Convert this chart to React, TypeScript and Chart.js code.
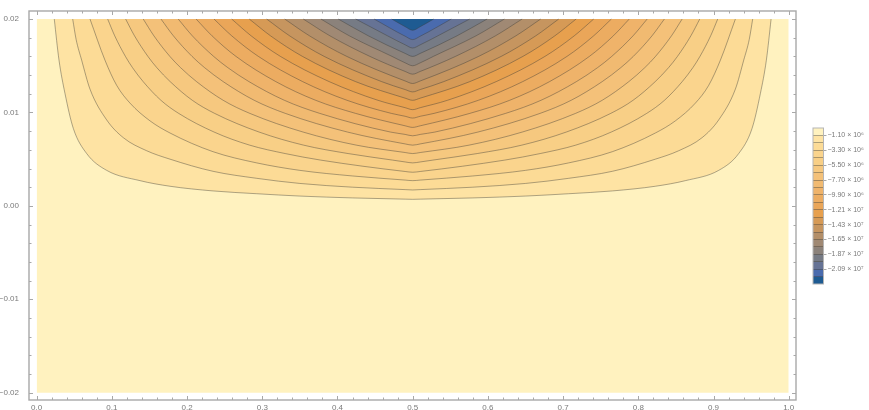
import React, { useEffect, useRef } from "react";
import { Chart, registerables } from "chart.js";

Chart.register(...registerables);

const xMajor = [0, 0.1, 0.2, 0.3, 0.4, 0.5, 0.6, 0.7, 0.8, 0.9, 1];
const xMinor = [0.02, 0.04, 0.06, 0.08, 0.12, 0.14, 0.16, 0.18, 0.22, 0.24, 0.26, 0.28, 0.32, 0.34, 0.36, 0.38, 0.42, 0.44, 0.46, 0.48, 0.52, 0.54, 0.56, 0.58, 0.62, 0.64, 0.66, 0.68, 0.72, 0.74, 0.76, 0.78, 0.82, 0.84, 0.86, 0.88, 0.92, 0.94, 0.96, 0.98];
const yMajor = [-0.02, -0.01, 0, 0.01, 0.02];
const yMinor = [-0.018, -0.016, -0.014, -0.012, -0.008, -0.006, -0.004, -0.002, 0.002, 0.004, 0.006, 0.008, 0.012, 0.014, 0.016, 0.018];

// Left half of each contour, as [x, y]; the plot is mirror-symmetric about x = 0.5.
const c01 = [[0.0234, 0.02], [0.0297, 0.0156], [0.0376, 0.01205], [0.0487, 0.0083], [0.0665, 0.0056], [0.0931, 0.0038], [0.1374, 0.0027], [0.1773, 0.0021], [0.2345, 0.0016], [0.2926, 0.0013], [0.35, 0.00105], [0.42, 0.00085], [0.49, 0.00072], [0.5, 0.0007]];
const c02 = [[0.0479, 0.02], [0.0525, 0.0178], [0.0598, 0.0156], [0.0709, 0.0125], [0.0931, 0.0092], [0.1152, 0.0073], [0.1463, 0.0059], [0.1773, 0.005], [0.2345, 0.0037], [0.2926, 0.00295], [0.35, 0.0024], [0.42, 0.002], [0.49, 0.00174], [0.5, 0.0017]];
const c03 = [[0.0709, 0.02], [0.0908, 0.0156], [0.1064, 0.0129], [0.1241, 0.011], [0.1507, 0.0091], [0.1773, 0.0078], [0.2345, 0.0058], [0.2926, 0.0046], [0.35, 0.0038], [0.42, 0.0032], [0.49, 0.00276], [0.5, 0.0027]];
const c04 = [[0.0944, 0.02], [0.1038, 0.0182], [0.118, 0.016], [0.1274, 0.0148], [0.1416, 0.0133], [0.1652, 0.0113], [0.1888, 0.0099], [0.236, 0.0079], [0.2832, 0.0065], [0.3304, 0.0056], [0.3776, 0.0049], [0.49, 0.00368], [0.5, 0.0036]];
const c05 = [[0.1183, 0.02], [0.1301, 0.0182], [0.1479, 0.016], [0.1597, 0.0148], [0.1775, 0.0133], [0.207, 0.0113], [0.2366, 0.0099], [0.2958, 0.0079], [0.3549, 0.0065], [0.4141, 0.0056], [0.4732, 0.0049], [0.49, 0.0047], [0.5, 0.0046]];
const c06 = [[0.1417, 0.02], [0.1559, 0.0182], [0.1771, 0.016], [0.1913, 0.0148], [0.2126, 0.0133], [0.248, 0.0113], [0.2834, 0.0099], [0.3543, 0.0079], [0.4251, 0.0065], [0.49, 0.00571], [0.5, 0.0056]];
const c07 = [[0.1653, 0.02], [0.1818, 0.0182], [0.2066, 0.016], [0.2232, 0.0148], [0.248, 0.0133], [0.2893, 0.0113], [0.3306, 0.0099], [0.4133, 0.0079], [0.49, 0.00663], [0.5, 0.0065]];
const c08 = [[0.1882, 0.02], [0.207, 0.0182], [0.2353, 0.016], [0.2541, 0.0148], [0.2823, 0.0133], [0.3294, 0.0113], [0.3764, 0.0099], [0.4705, 0.0079], [0.49, 0.00765], [0.5, 0.0075]];
const c09 = [[0.212, 0.02], [0.2332, 0.0182], [0.265, 0.016], [0.318, 0.0133], [0.371, 0.0113], [0.424, 0.0099], [0.49, 0.00857], [0.5, 0.0084]];
const c10 = [[0.2358, 0.02], [0.2594, 0.0182], [0.2948, 0.016], [0.3537, 0.0133], [0.4127, 0.0113], [0.4716, 0.0099], [0.49, 0.00959], [0.5, 0.0094]];
const c11 = [[0.2593, 0.02], [0.2852, 0.0182], [0.3241, 0.016], [0.389, 0.0133], [0.4538, 0.0113], [0.49, 0.01051], [0.5, 0.0103]];
const c12 = [[0.2827, 0.02], [0.311, 0.0182], [0.3534, 0.016], [0.4241, 0.0133], [0.49, 0.01153], [0.5, 0.0113]];
const c13 = [[0.3058, 0.02], [0.3364, 0.0182], [0.3823, 0.016], [0.4587, 0.0133], [0.49, 0.01245], [0.5, 0.0122]];
const c14 = [[0.3298, 0.02], [0.3628, 0.0182], [0.4123, 0.016], [0.49, 0.01337], [0.5, 0.0131]];
const c15 = [[0.3545, 0.02], [0.39, 0.0182], [0.4431, 0.016], [0.49, 0.01439], [0.5, 0.0141]];
const c16 = [[0.378, 0.02], [0.4158, 0.0182], [0.4725, 0.016], [0.49, 0.01531], [0.5, 0.015]];
const c17 = [[0.401, 0.02], [0.4411, 0.0182], [0.49, 0.01632], [0.5, 0.016]];
const c18 = [[0.4242, 0.02], [0.4666, 0.0182], [0.49, 0.01724], [0.5, 0.0169]];
const c19 = [[0.4487, 0.02], [0.49, 0.01816], [0.5, 0.0178]];
const c20 = [[0.4721, 0.02], [0.49, 0.01918], [0.5, 0.0188]];
const contours = [c01, c02, c03, c04, c05, c06, c07, c08, c09, c10, c11, c12, c13, c14, c15, c16, c17, c18, c19, c20];

const bandColors = ["#FFF2BF", "#FEE3A3", "#FCDB96", "#FAD48D", "#F8CF86", "#F6C87F", "#F4C179", "#F1BA71", "#EFB36A", "#ECAC61", "#EAA659", "#E7A04E", "#D69A56", "#C6955F", "#B38F69", "#A08974", "#8B827B", "#767B85", "#667395", "#4A6BAE", "#1E5B92"];

const legendLevels = [-1.1e6, -2.2e6, -3.3e6, -4.4e6, -5.5e6, -6.6e6, -7.7e6, -8.8e6, -9.9e6, -1.1e7, -1.21e7, -1.32e7, -1.43e7, -1.54e7, -1.65e7, -1.76e7, -1.87e7, -1.98e7, -2.09e7, -2.2e7];
const legendLabels = ["−1.10 × 10⁶", "", "−3.30 × 10⁶", "", "−5.50 × 10⁶", "", "−7.70 × 10⁶", "", "−9.90 × 10⁶", "", "−1.21 × 10⁷", "", "−1.43 × 10⁷", "", "−1.65 × 10⁷", "", "−1.87 × 10⁷", "", "−2.09 × 10⁷", ""];
const bandSpan = 1.1e6;

const lineColor = "rgba(60,60,55,0.42)";
const axisColor = "#a8a8a8";
const textColor = "#7a7a7a";
const font = "Liberation Sans";

const setTicks = (major: number[], minor: number[]) => (scale: any) => {
  scale.ticks = [...major.map((value) => ({ value, major: true })), ...minor.map((value) => ({ value, major: false }))].sort((a, b) => a.value - b.value);
};

const framePlugin = {
  id: "frame",
  afterDatasetsDraw(chart: any) {
    const { ctx, chartArea: a, scales } = chart;
    ctx.save();
    ctx.strokeStyle = axisColor;
    ctx.lineWidth = 1;
    ctx.beginPath();
    for (const t of scales.x.ticks) {
      const p = Math.round(scales.x.getPixelForValue(t.value)) + 0.5;
      const len = t.major ? 4 : 2.5;
      ctx.moveTo(p, a.bottom); ctx.lineTo(p, a.bottom - len);
      ctx.moveTo(p, a.top); ctx.lineTo(p, a.top + len);
    }
    for (const t of scales.y.ticks) {
      const p = Math.round(scales.y.getPixelForValue(t.value)) + 0.5;
      const len = t.major ? 4 : 2.5;
      ctx.moveTo(a.left, p); ctx.lineTo(a.left + len, p);
      ctx.moveTo(a.right, p); ctx.lineTo(a.right - len, p);
    }
    ctx.stroke();
    ctx.lineWidth = 1.4;
    ctx.strokeRect(a.left, a.top, a.right - a.left, a.bottom - a.top);
    ctx.restore();
  },
};

const barFramePlugin = {
  id: "barFrame",
  afterDraw(chart: any) {
    const { ctx, chartArea: a } = chart;
    ctx.save();
    ctx.strokeStyle = "#b5b5b5";
    ctx.lineWidth = 1;
    ctx.strokeRect(a.left, a.top, a.right - a.left, a.bottom - a.top);
    ctx.restore();
  },
};

export default function App() {
  const mainRef = useRef<HTMLCanvasElement>(null);
  const barRef = useRef<HTMLCanvasElement>(null);

  useEffect(() => {
    const contourSets = contours
      .map((half, i) => {
        const right = half.slice(0, -1).reverse().map(([x, y]) => [1 - x, y]);
        const pts = [...half, ...right].map(([x, y]) => ({ x, y }));
        return {
          data: pts,
          showLine: true,
          pointRadius: 0,
          borderColor: lineColor,
          borderWidth: 1,
          cubicInterpolationMode: "monotone",
          fill: { target: { value: 0.02 }, above: bandColors[i + 1], below: bandColors[i + 1] },
        };
      })
      .reverse();
    const base = {
      data: [{ x: 0, y: -0.02 }, { x: 1, y: -0.02 }],
      showLine: true,
      pointRadius: 0,
      borderWidth: 0,
      borderColor: "transparent",
      fill: { target: { value: 0.02 }, above: bandColors[0], below: bandColors[0] },
    };
    const main = new Chart(mainRef.current!, {
      type: "scatter",
      data: { datasets: [...contourSets, base] as any },
      plugins: [framePlugin],
      options: {
        animation: false,
        responsive: false,
        layout: { padding: { left: 0, top: 11, right: 73, bottom: 0 } },
        plugins: { legend: { display: false }, tooltip: { enabled: false } },
        scales: {
          x: {
            type: "linear",
            min: -0.0102,
            max: 1.0097,
            afterBuildTicks: setTicks(xMajor, xMinor),
            afterFit: (s: any) => { s.height = 30; },
            grid: { display: false },
            border: { display: false },
            ticks: {
              autoSkip: false,
              maxRotation: 0,
              padding: -5,
              color: textColor,
              font: { family: font, size: 8 },
              callback: (_v: any, i: number, t: any[]) => (t[i].major ? t[i].value.toFixed(1) : ""),
            },
          },
          y: {
            type: "linear",
            min: -0.02078,
            max: 0.02086,
            afterBuildTicks: setTicks(yMajor, yMinor),
            afterFit: (s: any) => { s.width = 29; },
            grid: { display: false },
            border: { display: false },
            ticks: {
              autoSkip: false,
              padding: 2,
              color: textColor,
              font: { family: font, size: 8 },
              callback: (_v: any, i: number, t: any[]) => {
                if (!t[i].major) return "";
                const v = t[i].value;
                return (v < 0 ? "−" : "") + Math.abs(v).toFixed(2);
              },
            },
          },
        },
      },
    });

    const bar = new Chart(barRef.current!, {
      type: "bar",
      data: {
        labels: ["bar"],
        datasets: bandColors.map((c) => ({
          data: [-bandSpan],
          backgroundColor: c,
          borderWidth: 0,
          barPercentage: 1,
          categoryPercentage: 1,
        })),
      },
      plugins: [barFramePlugin],
      options: {
        animation: false,
        responsive: false,
        layout: { padding: { left: 1, top: 8, right: 0, bottom: 6 } },
        plugins: { legend: { display: false }, tooltip: { enabled: false } },
        scales: {
          x: { stacked: true, display: false },
          y: {
            stacked: true,
            position: "right",
            min: -2.31e7,
            max: 0,
            afterBuildTicks: (s: any) => {
              s.ticks = legendLevels.map((value) => ({ value }));
            },
            afterFit: (s: any) => { s.width = 45.5; },
            border: { display: false },
            grid: {
              z: 1,
              color: lineColor,
              tickColor: (ctx: any) => (legendLabels[legendLevels.indexOf(ctx.tick?.value)] ? "#a8a8a8" : "transparent"),
              tickLength: 3,
            },
            ticks: {
              autoSkip: false,
              padding: 1,
              color: textColor,
              font: { family: font, size: 7 },
              callback: (v: any) => legendLabels[legendLevels.indexOf(v)] ?? "",
            },
          },
        },
      },
    });

    return () => {
      main.destroy();
      bar.destroy();
    };
  }, []);

  return (
    <div style={{ position: "absolute", left: 0, top: 0, width: 869, height: 410, background: "#fff", overflow: "hidden" }}>
      <canvas ref={mainRef} width={869} height={430} style={{ position: "absolute", left: 0, top: 0, width: 869, height: 430, filter: "blur(0.6px)" }} />
      <canvas ref={barRef} width={57} height={170} style={{ position: "absolute", left: 812, top: 120, width: 57, height: 170, filter: "blur(0.5px)" }} />
    </div>
  );
}
